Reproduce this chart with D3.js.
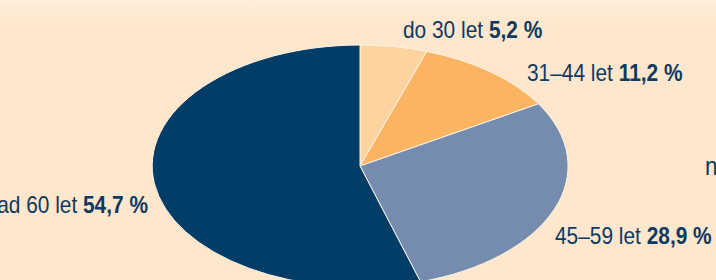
<!DOCTYPE html>
<html>
<head>
<meta charset="utf-8">
<script src="https://cdn.jsdelivr.net/npm/d3@7"></script>
<style>
  html, body { margin: 0; padding: 0; background: #fee7cc; }
  svg { display: block; }
  text { font-family: "Liberation Sans", Arial, sans-serif; fill: #0e3962; }
</style>
</head>
<body>
<div id="vis"></div>
<script>
// age groups, share in %
var groups = ["do 30 let", "31–44 let", "45–59 let", "nad 60 let"];
var shares = [5.2, 11.2, 28.9, 54.7];
var shareLabels = ["5,2 %", "11,2 %", "28,9 %", "54,7 %"];
var colors = ["#fdd39f", "#fbb562", "#758cae", "#013d67"];

var width = 716, height = 280;
var cx = 360, cy = 166, rx = 208, ry = 121;
var squeeze = 0.87; // condensed look of the labels

var svg = d3.select("#vis").append("svg")
    .attr("width", width)
    .attr("height", height);

var defs = svg.append("defs");
var grad = defs.append("linearGradient")
    .attr("id", "topfade")
    .attr("x1", 0).attr("y1", 0).attr("x2", 0).attr("y2", 1);
grad.append("stop").attr("offset", "0%").attr("stop-color", "#feeedd");
grad.append("stop").attr("offset", "100%").attr("stop-color", "#fee7cc");

svg.append("rect")
    .attr("width", width)
    .attr("height", height)
    .attr("fill", "#fee7cc");
svg.append("rect")
    .attr("width", width)
    .attr("height", 22)
    .attr("fill", "url(#topfade)");

var pie = d3.pie().sort(null).value(function(d) { return d; });
var arc = d3.arc().innerRadius(0).outerRadius(1);

// unit circle pie, stretched into an ellipse
var g = svg.append("g")
    .attr("transform", "translate(" + cx + "," + cy + ") scale(" + rx + "," + ry + ")");

g.selectAll("path")
    .data(pie(shares))
    .enter().append("path")
    .attr("d", arc)
    .attr("fill", function(d, i) { return colors[i]; })
    .attr("stroke", "#fff3e4")
    .attr("stroke-width", 1)
    .attr("vector-effect", "non-scaling-stroke");

// label positions (anchor x, baseline y, text-anchor)
var labelPos = [
    [403, 38, "start"],
    [527, 81, "start"],
    [555, 244, "start"],
    [148, 213, "end"]
];

for (var i in groups) {
    var t = svg.append("text")
        .attr("transform", "translate(" + labelPos[i][0] + "," + labelPos[i][1] + ") scale(" + squeeze + ",1)")
        .attr("text-anchor", labelPos[i][2])
        .style("font-size", "24px");
    t.append("tspan").text(groups[i] + " ");
    t.append("tspan").attr("font-weight", "bold").text(shareLabels[i]);
}

// cut-off label of the neighbouring chart
svg.append("text")
    .attr("transform", "translate(705,175) scale(" + squeeze + ",1)")
    .style("font-size", "26px")
    .text("n");
</script>
</body>
</html>
